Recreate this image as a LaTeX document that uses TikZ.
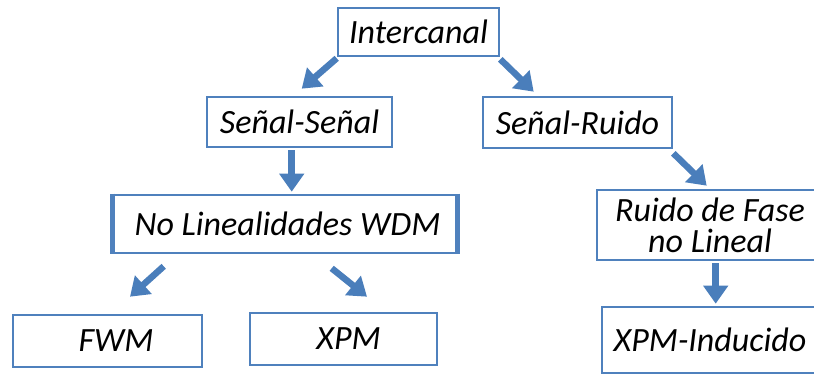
\documentclass[tikz,border=0pt]{standalone}
\usepackage{fontspec}
\setmainfont{Carlito}
\usetikzlibrary{arrows.meta,calc}
\definecolor{boxblue}{HTML}{4F81BD}
\definecolor{arrblue}{HTML}{4A7EBB}
\tikzset{
  box/.style={draw=boxblue, line width=2.6pt, fill=white, inner sep=0pt,
    font=\fontsize{34}{31}\selectfont\itshape, text=black, align=center},
  arr/.style={draw=arrblue, line width=6.5pt,
    -{Triangle[width=24pt,length=18pt]}, fill=arrblue},
}
\begin{document}
\begin{tikzpicture}[x=1pt,y=-1pt]
\useasboundingbox (0,0) rectangle (814,377);
\clip (0,0) rectangle (814,377);
\fill[white] (0,0) rectangle (814,377);

% boxes
\node[box, minimum width=161pt, minimum height=48pt] (top) at (418.5,32) {Intercanal};
\node[box, minimum width=185pt, minimum height=50pt] (ss) at (299.5,122) {Señal-Señal};
\node[box, minimum width=189pt, minimum height=51pt] (sr) at (577.5,122.5) {Señal-Ruido};
\node[box, minimum width=344pt, minimum height=58pt] (nl) at (285,224) {\hspace*{5pt}No Linealidades WDM};
\node[box, minimum width=189pt, minimum height=52pt] (fwm) at (107.5,341) {\hspace*{17pt}FWM};
\node[box, minimum width=187pt, minimum height=52pt] (xpm) at (343.5,339) {\hspace*{10pt}XPM};
\node[box, minimum width=226pt, minimum height=70pt] (rf) at (710,225) {Ruido de Fase\\no Lineal};
\node[box, minimum width=216pt, minimum height=66pt] (xi) at (710,340) {XPM-Inducido};

% heavier side edges of the WDM box
\draw[boxblue, line width=5pt] ($(nl.north west)+(1,0)$) -- ($(nl.south west)+(1,0)$);
\draw[boxblue, line width=5pt] ($(nl.north east)+(-1,0)$) -- ($(nl.south east)+(-1,0)$);

% connectors
\draw[arr] ($(top.south west)+(0,1)$) -- ($(ss.north west)+(96,-7)$);
\draw[arr] ($(top.south east)+(0,2)$) -- ($(sr.north west)+(52,-4)$);
\draw[arr] ($(ss.south west)+(86,2)$) -- ($(nl.north west)+(180,-2)$);
\draw[arr] ($(sr.south east)+(0,4)$) -- ($(rf.north west)+(111,-3)$);
\draw[arr] ($(nl.south west)+(52,12)$) -- ($(fwm.north)+(22.5,-17)$);
\draw[arr] ($(nl.south west)+(220,14)$) -- ($(xpm.north)+(23.5,-15)$);
\draw[arr] ($(rf.south west)+(120,2)$) -- ($(xi.north west)+(115,-2)$);
\end{tikzpicture}
\end{document}
